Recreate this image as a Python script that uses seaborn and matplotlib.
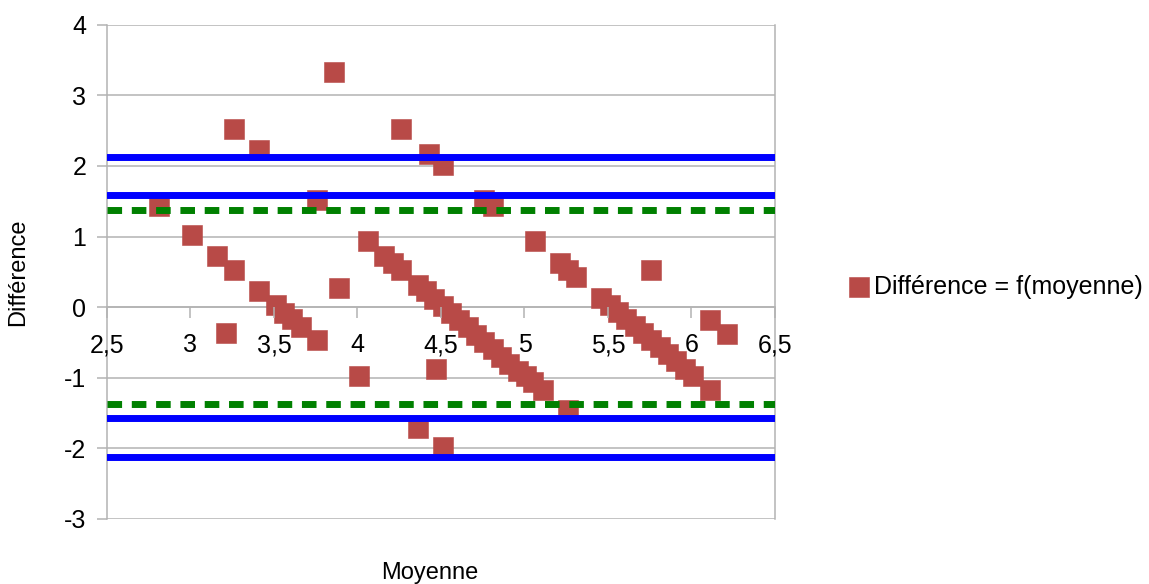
#!/usr/bin/env python
"""
Bland-Altman style plot: difference vs mean, with limit lines.
"""

import matplotlib
matplotlib.use("Agg")
import matplotlib.pyplot as plt
import pandas as pd
import seaborn as sns

# Points
moyenne = [
    2.81, 3.01, 3.16, 3.21, 3.26, 3.26, 3.41, 3.41, 3.51, 3.56,
    3.61, 3.66, 3.76, 3.76, 3.86, 3.89, 4.01, 4.06, 4.16, 4.21,
    4.26, 4.26, 4.36, 4.36, 4.41, 4.43, 4.46, 4.47, 4.51, 4.51,
    4.51, 4.56, 4.61, 4.66, 4.71, 4.76, 4.76, 4.81, 4.81, 4.86,
    4.91, 4.96, 5.01, 5.05, 5.06, 5.11, 5.21, 5.26, 5.26, 5.31,
    5.46, 5.51, 5.56, 5.61, 5.66, 5.71, 5.76, 5.76, 5.81, 5.86,
    5.91, 5.96, 6.01, 6.11, 6.11, 6.21,
]
difference = [
    1.43, 1.02, 0.73, -0.37, 2.53, 0.53, 2.22, 0.23, 0.03, -0.08,
    -0.17, -0.28, 1.52, -0.47, 3.33, 0.27, -0.98, 0.93, 0.72, 0.63,
    2.53, 0.52, 0.32, -1.71, 0.23, 2.17, 0.12, -0.87, 2.02, 0.02,
    -1.98, -0.08, -0.18, -0.28, -0.39, 1.52, -0.49, 1.43, -0.59, -0.70,
    -0.80, -0.90, -0.98, -1.06, 0.93, -1.18, 0.63, 0.53, -1.46, 0.43,
    0.13, 0.03, -0.07, -0.17, -0.27, -0.37, 0.53, -0.47, -0.57, -0.67,
    -0.77, -0.87, -0.97, -0.18, -1.17, -0.38,
]

# Horizontal limit lines
limites_bleues = [2.13, 1.59, -1.57, -2.12]
limites_vertes = [1.38, -1.38]

x_ticks = [2.5, 3, 3.5, 4, 4.5, 5, 5.5, 6, 6.5]
x_tick_labels = ["2,5", "3", "3,5", "4", "4,5", "5", "5,5", "6", "6,5"]
y_ticks = [-3, -2, -1, 0, 1, 2, 3, 4]
y_tick_labels = ["-3", "-2", "-1", "0", "1", "2", "3", "4"]

GRID = "#b3b3b3"
POINT = "#b84a47"

sns.set_style("white")
plt.rcParams['font.family'] = ['Liberation Sans', 'DejaVu Sans']
plt.rcParams['font.size'] = 18
plt.rcParams['text.color'] = 'black'

df = pd.DataFrame({'moyenne': moyenne, 'difference': difference})

fig = plt.figure(figsize=(11.49, 5.84), dpi=100)
ax = fig.add_axes([0.0931, 0.1116, 0.5814, 0.8459])

# grid drawn by hand so it stays under the points while tick labels sit on top
for y in y_ticks:
    ax.axhline(y, color=GRID, lw=1.1, zorder=0.5)

sns.scatterplot(data=df, x='moyenne', y='difference', marker='s', s=196,
                color=POINT, zorder=2, ax=ax, label="Différence = f(moyenne)")
# seaborn puts a white edge on markers; paint it in the face colour instead
for coll in ax.collections:
    coll.set_edgecolor(POINT)
    coll.set_linewidth(0.4)

for y in limites_bleues:
    ax.axhline(y, color='#0000ff', lw=5, zorder=3)
for y in limites_vertes:
    ax.axhline(y, color='#008000', lw=5, ls=(0, (2.1, 1.4)), zorder=3)

ax.set_xlim(2.5, 6.5)
ax.set_ylim(-3, 4)
ax.set_xticks(x_ticks)
ax.set_xticklabels(x_tick_labels)
ax.set_yticks(y_ticks)
ax.set_yticklabels(y_tick_labels)
ax.set_xlabel("")
ax.set_ylabel("")
ax.set_axisbelow(False)

ax.spines['bottom'].set_position(('data', 0))
ax.spines['top'].set_visible(False)
for side in ['bottom', 'left', 'right']:
    ax.spines[side].set_color(GRID)
    ax.spines[side].set_linewidth(1.1)
    ax.spines[side].set_zorder(0.6)

ax.tick_params(axis='x', direction='out', length=8, width=1.1, color=GRID,
               pad=11, labelsize=18, labelcolor='black', bottom=True)
ax.tick_params(axis='y', direction='out', length=7, width=1.1, color=GRID,
               pad=8, labelsize=18, labelcolor='black', left=True)

fig.text(18 / 1149, 1 - 272 / 584, "Différence", rotation=90,
         ha='center', va='center', fontsize=17)
fig.text(429.5 / 1149, 1 - 573 / 584, "Moyenne",
         ha='center', va='center', fontsize=17)

leg = ax.legend(loc='center left', bbox_to_anchor=(850 / 1149, 1 - 287 / 584),
                bbox_transform=fig.transFigure, frameon=False, borderpad=0,
                borderaxespad=0, handlelength=0.75, handletextpad=0.2,
                fontsize=18)
for h in leg.legend_handles:
    h.set_edgecolor(POINT)

fig.savefig("out.png", dpi=100)
plt.close(fig)
